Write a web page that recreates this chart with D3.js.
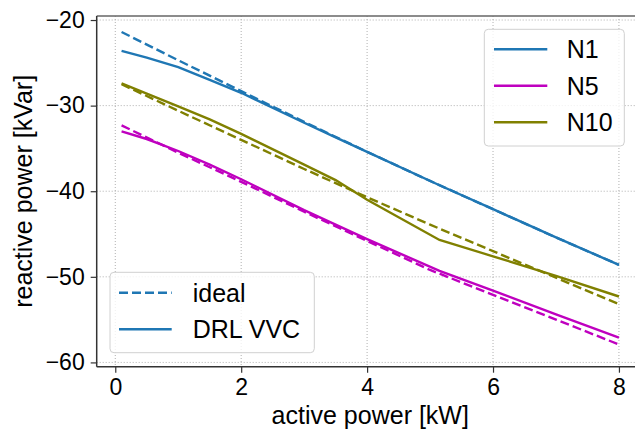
<!DOCTYPE html>
<html>
<head>
<meta charset="utf-8">
<script src="https://cdn.jsdelivr.net/npm/d3@7"></script>
<style>
  body { margin: 0; background: #fff; }
  svg { display: block; font-family: "Liberation Sans", Arial, sans-serif; }
</style>
</head>
<body>
<svg id="chart" width="635" height="432"></svg>
<script>
// x positions (kW)
let xIdeal = [0.1, 1, 2, 3, 4, 5, 6, 7, 8];
let xDrl = [0.1, 0.5, 1, 1.5, 2, 3, 3.5, 4, 5.15, 6, 7, 8];

// ideal reactive power (kVar)
let n1Ideal = [-21.4, -24.7, -28.3, -31.9, -35.4, -38.8, -42.1, -45.4, -48.6];
let n5Ideal = [-32.3, -35.5, -38.9, -42.4, -45.8, -49.2, -52.1, -55.0, -57.9];
let n10Ideal = [-27.5, -30.6, -34.0, -37.4, -40.7, -43.9, -47.0, -50.1, -53.2];

// DRL VVC reactive power (kVar)
let n1Drl = [-23.6, -24.4, -25.5, -27.0, -28.5, -32.0, -33.7, -35.4, -39.3, -42.1, -45.4, -48.6];
let n5Drl = [-33.0, -33.9, -35.3, -36.9, -38.6, -42.2, -43.9, -45.6, -49.3, -51.6, -54.4, -57.1];
let n10Drl = [-27.4, -28.6, -30.1, -31.6, -33.3, -36.9, -38.7, -41.0, -45.7, -47.6, -49.9, -52.3];

let nodeNames = ["N1", "N5", "N10"];
let nodeColors = ["#1f77b4", "#bf00bf", "#808000"];
let xTicks = [0, 2, 4, 6, 8];
let yTicks = [-20, -30, -40, -50, -60];

let svg = d3.select("#chart");
let plotLeft = 96.7, plotRight = 643.8, plotTop = 16, plotBottom = 366.7;

let x = d3.scaleLinear().domain([-0.295, 8.395]).range([plotLeft, plotRight]);
let y = d3.scaleLinear().domain([-60.5, -19.53]).range([plotBottom, plotTop]);

// grid
let grid = svg.append("g").attr("class", "grid");
grid.selectAll(".vgrid").data(xTicks).enter().append("line")
  .attr("x1", d => x(d)).attr("x2", d => x(d))
  .attr("y1", plotTop).attr("y2", plotBottom)
  .attr("stroke", "#b0b0b0").attr("stroke-width", 1)
  .attr("stroke-dasharray", "1,2");
grid.selectAll(".hgrid").data(yTicks).enter().append("line")
  .attr("x1", plotLeft).attr("x2", plotRight)
  .attr("y1", d => y(d)).attr("y2", d => y(d))
  .attr("stroke", "#b0b0b0").attr("stroke-width", 1)
  .attr("stroke-dasharray", "1,2");

// lines
let line = d3.line().x(d => x(d[0])).y(d => y(d[1]));
let idealSeries = [n1Ideal, n5Ideal, n10Ideal];
let drlSeries = [n1Drl, n5Drl, n10Drl];

for (let i = 0; i < 3; i++) {
  svg.append("path")
    .datum(xIdeal.map((v, j) => [v, idealSeries[i][j]]))
    .attr("d", line)
    .attr("fill", "none")
    .attr("stroke", nodeColors[i])
    .attr("stroke-width", 2.4)
    .attr("stroke-dasharray", "9,4");
  svg.append("path")
    .datum(xDrl.map((v, j) => [v, drlSeries[i][j]]))
    .attr("d", line)
    .attr("fill", "none")
    .attr("stroke", nodeColors[i])
    .attr("stroke-width", 2.4);
}

// spines
svg.append("line").attr("x1", plotLeft).attr("x2", 635).attr("y1", plotTop).attr("y2", plotTop)
  .attr("stroke", "#666").attr("stroke-width", 1.5);
svg.append("line").attr("x1", plotLeft).attr("x2", plotLeft).attr("y1", plotTop).attr("y2", plotBottom)
  .attr("stroke", "#333").attr("stroke-width", 1.5);
svg.append("line").attr("x1", plotLeft).attr("x2", 635).attr("y1", plotBottom).attr("y2", plotBottom)
  .attr("stroke", "#333").attr("stroke-width", 1.5);

// axes
let xAxis = d3.axisBottom(x).tickValues(xTicks).tickSize(6).tickPadding(6).tickFormat(d3.format("d"));
let gx = svg.append("g").attr("transform", "translate(0," + plotBottom + ")").call(xAxis);
let yAxis = d3.axisLeft(y).tickValues(yTicks).tickSize(6).tickPadding(6)
  .tickFormat(d => "\u2212" + Math.abs(d));
let gy = svg.append("g").attr("transform", "translate(" + plotLeft + ",0)").call(yAxis);
[gx, gy].forEach(g => {
  g.select(".domain").remove();
  g.selectAll(".tick line").attr("stroke", "#333").attr("stroke-width", 1.2);
  g.selectAll(".tick text").attr("font-size", 23).attr("fill", "#000")
    .attr("font-family", "Liberation Sans, Arial, sans-serif");
});

// axis labels
svg.append("text").attr("x", (plotLeft + plotRight) / 2).attr("y", 424)
  .attr("text-anchor", "middle").attr("font-size", 25).text("active power [kW]");
svg.append("text").attr("transform", "translate(32," + ((plotTop + plotBottom) / 2) + ") rotate(-90)")
  .attr("text-anchor", "middle").attr("font-size", 25).text("reactive power [kVar]");

// legend: nodes
let leg1 = svg.append("g");
leg1.append("rect").attr("x", 484.3).attr("y", 29.3).attr("width", 140).attr("height", 116.7)
  .attr("rx", 4).attr("fill", "#fff").attr("fill-opacity", 0.8)
  .attr("stroke", "#d0d0d0").attr("stroke-width", 1);
nodeNames.forEach((name, i) => {
  let yy = 49.3 + i * 36.5;
  leg1.append("line").attr("x1", 494).attr("x2", 547.3).attr("y1", yy).attr("y2", yy)
    .attr("stroke", nodeColors[i]).attr("stroke-width", 2.4);
  leg1.append("text").attr("x", 566.7).attr("y", yy + 9).attr("font-size", 25).text(name);
});

// legend: styles
let styleNames = ["ideal", "DRL VVC"];
let styleDash = ["9,4", null];
let leg2 = svg.append("g");
leg2.append("rect").attr("x", 110).attr("y", 272.3).attr("width", 204.3).attr("height", 80.4)
  .attr("rx", 4).attr("fill", "#fff").attr("fill-opacity", 0.8)
  .attr("stroke", "#d0d0d0").attr("stroke-width", 1);
styleNames.forEach((name, i) => {
  let yy = 292.7 + i * 36.6;
  leg2.append("line").attr("x1", 119).attr("x2", 171.7).attr("y1", yy).attr("y2", yy)
    .attr("stroke", nodeColors[0]).attr("stroke-width", 2.4)
    .attr("stroke-dasharray", styleDash[i]);
  leg2.append("text").attr("x", 192.7).attr("y", yy + 9).attr("font-size", 25).text(name);
});
</script>
</body>
</html>
